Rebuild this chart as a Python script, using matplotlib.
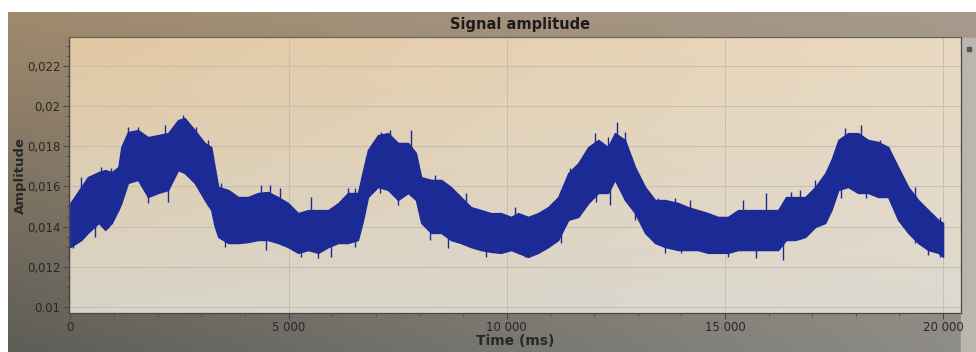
"""Signal amplitude over time: dense noisy trace drawn as its min/max band."""
import numpy as np
import matplotlib
matplotlib.use("Agg")
import matplotlib.pyplot as plt
from matplotlib.ticker import FixedLocator, MultipleLocator, FixedFormatter

# envelope of the noisy trace
time_ms = [0, 250, 400, 650, 800, 950, 1100, 1170, 1320, 1550, 1780, 2010, 2240,
           2470, 2620, 2850, 3080, 3230, 3300, 3390, 3620, 3850, 4070, 4300, 4530,
           4760, 4990, 5220, 5450, 5680, 5910, 6140, 6360, 6590, 6710, 6820, 7050,
           7280, 7510, 7740, 7920, 8040, 8270, 8500, 8720, 8950, 9180, 9410, 9640,
           9870, 10100, 10260, 10490, 10720, 10950, 11180, 11410, 11640, 11870,
           12100, 12320, 12480, 12710, 12940, 13170, 13400, 13630, 13930, 14150,
           14380, 14610, 14840, 15070, 15300, 15530, 15760, 15990, 16220, 16400,
           16610, 16840, 17070, 17300, 17440, 17600, 17820, 18050, 18280, 18510,
           18740, 18970, 19200, 19430, 19660, 19890, 20000]
amp_upper = [0.01517, 0.01597, 0.01646, 0.01671, 0.01681, 0.01671, 0.01696, 0.01796,
             0.01870, 0.01880, 0.01845, 0.01855, 0.01865, 0.01930, 0.01940, 0.01880,
             0.01816, 0.01796, 0.01706, 0.01597, 0.01582, 0.01547, 0.01547, 0.01567,
             0.01572, 0.01547, 0.01517, 0.01467, 0.01482, 0.01482, 0.01482, 0.01517,
             0.01567, 0.01567, 0.01681, 0.01781, 0.01855, 0.01865, 0.01816, 0.01816,
             0.01766, 0.01646, 0.01632, 0.01632, 0.01597, 0.01547, 0.01497, 0.01482,
             0.01467, 0.01467, 0.01448, 0.01467, 0.01448, 0.01467, 0.01497, 0.01547,
             0.01666, 0.01716, 0.01796, 0.01831, 0.01796, 0.01865, 0.01831, 0.01696,
             0.01597, 0.01532, 0.01532, 0.01517, 0.01497, 0.01482, 0.01467, 0.01448,
             0.01448, 0.01482, 0.01482, 0.01482, 0.01482, 0.01482, 0.01547, 0.01547,
             0.01547, 0.01597, 0.01666, 0.01731, 0.01831, 0.01865, 0.01865, 0.01831,
             0.01821, 0.01796, 0.01696, 0.01597, 0.01532, 0.01482, 0.01433, 0.01418]
amp_lower = [0.01298, 0.01333, 0.01368, 0.01418, 0.01383, 0.01418, 0.01482, 0.01517,
             0.01617, 0.01632, 0.01547, 0.01567, 0.01582, 0.01681, 0.01666, 0.01617,
             0.01532, 0.01482, 0.01408, 0.01348, 0.01318, 0.01318, 0.01323, 0.01333,
             0.01333, 0.01318, 0.01298, 0.01269, 0.01283, 0.01269, 0.01298, 0.01318,
             0.01318, 0.01333, 0.01433, 0.01547, 0.01597, 0.01582, 0.01532, 0.01567,
             0.01532, 0.01418, 0.01368, 0.01368, 0.01333, 0.01318, 0.01298, 0.01283,
             0.01274, 0.01269, 0.01283, 0.01269, 0.01249, 0.01269, 0.01298, 0.01333,
             0.01433, 0.01448, 0.01517, 0.01567, 0.01567, 0.01632, 0.01532, 0.01467,
             0.01368, 0.01318, 0.01298, 0.01283, 0.01283, 0.01283, 0.01269, 0.01269,
             0.01269, 0.01283, 0.01283, 0.01283, 0.01283, 0.01283, 0.01333, 0.01333,
             0.01348, 0.01398, 0.01418, 0.01482, 0.01582, 0.01597, 0.01567, 0.01567,
             0.01547, 0.01547, 0.01433, 0.01368, 0.01318, 0.01283, 0.01269, 0.01249]

# isolated spikes poking out of the band
spike_up_t = [238, 704, 933, 1322, 1551, 2170, 2583, 2881, 3156, 3454, 4370, 4577,
              4806, 5516, 6364, 6524, 6776, 7120, 7326, 7807, 8357, 9068, 10191,
              11451, 12024, 12322, 12528, 12712, 13468, 13858, 14201, 15416, 15943,
              16516, 16722, 17066, 17433, 17754, 18120, 18556, 19358, 19931]
spike_up_v = [0.01646, 0.01696, 0.01691, 0.01895, 0.01895, 0.01905, 0.01955, 0.01895,
              0.01831, 0.01617, 0.01607, 0.01607, 0.01592, 0.01547, 0.01592, 0.01592,
              0.01746, 0.01870, 0.01880, 0.01880, 0.01656, 0.01567, 0.01497, 0.01691,
              0.01865, 0.01845, 0.01920, 0.01870, 0.01542, 0.01542, 0.01532, 0.01532,
              0.01567, 0.01572, 0.01582, 0.01632, 0.01731, 0.01890, 0.01905, 0.01831,
              0.01597, 0.01448]
spike_dn_t = [62, 566, 868, 1781, 2239, 3316, 3545, 4485, 5287, 5677, 5975, 6524,
              7097, 7509, 8243, 8656, 9527, 10420, 11245, 12047, 12368, 12941, 13629,
              13996, 15073, 15714, 16333, 17662, 18235, 19358, 19656, 19931]
spike_dn_v = [0.01293, 0.01348, 0.01393, 0.01517, 0.01522, 0.01433, 0.01298, 0.01283,
              0.01249, 0.01244, 0.01249, 0.01298, 0.01567, 0.01507, 0.01333, 0.01293,
              0.01249, 0.01249, 0.01318, 0.01522, 0.01507, 0.01433, 0.01269, 0.01269,
              0.01249, 0.01244, 0.01234, 0.01542, 0.01542, 0.01318, 0.01259, 0.01249]

y_ticks = [0.010, 0.012, 0.014, 0.016, 0.018, 0.020, 0.022]
y_labels = ["0.01", "0,012", "0,014", "0,016", "0,018", "0,02", "0,022"]
x_ticks = [0, 5000, 10000, 15000, 20000]
x_labels = ["0", "5 000", "10 000", "15 000", "20 000"]

C_SIG = "#1c2a96"
C_TXT = "#2a2824"


def gradient(tl, tr, bl, br, n=64):
    c = [np.array(matplotlib.colors.to_rgb(k)) for k in (tl, tr, bl, br)]
    u = np.linspace(0, 1, n)[None, :, None]
    v = np.linspace(0, 1, n)[:, None, None]
    top = c[0] * (1 - u) + c[1] * u
    bot = c[2] * (1 - u) + c[3] * u
    return top * (1 - v) + bot * v


fig = plt.figure(figsize=(9.76, 3.52), dpi=100, facecolor="white")

# photographed screen surround (white margin top/left)
bg = fig.add_axes([8 / 976, 0, 1 - 8 / 976, 1 - 12 / 352])
bg.imshow(gradient("#a08a6e", "#a69a8c", "#5e5d57", "#8f8d87"), aspect="auto",
          extent=(0, 1, 0, 1), interpolation="bilinear")
# strip to the right of the plot and its small marker
bg.add_patch(plt.Rectangle((0.984, 0), 0.02, 0.925, color="#bab6ae", zorder=2))
bg.plot([0.9925], [0.89], marker="s", ms=2.5, color="#555", zorder=3)
bg.set_xlim(0, 1)
bg.set_ylim(0, 1)
bg.set_axis_off()

ax = fig.add_axes([69 / 976, 1 - 313 / 352, (961 - 69) / 976, (313 - 37) / 352])
ax.imshow(gradient("#e2c8a2", "#eadac2", "#d8d4c8", "#ddd9d0"), aspect="auto",
          extent=(-30, 20410, 0.0097, 0.02343), interpolation="bilinear", zorder=0)

ax.fill_between(time_ms, amp_lower, amp_upper, color=C_SIG, lw=1.0,
                edgecolor=C_SIG, zorder=3)
ax.vlines(spike_up_t, np.interp(spike_up_t, time_ms, amp_lower), spike_up_v,
          color=C_SIG, lw=1.0, zorder=3)
ax.vlines(spike_dn_t, spike_dn_v, np.interp(spike_dn_t, time_ms, amp_upper),
          color=C_SIG, lw=1.0, zorder=3)

ax.set_xlim(-30, 20410)
ax.set_ylim(0.0097, 0.02343)
ax.yaxis.set_major_locator(FixedLocator(y_ticks))
ax.yaxis.set_major_formatter(FixedFormatter(y_labels))
ax.yaxis.set_minor_locator(MultipleLocator(0.0005))
ax.xaxis.set_major_locator(FixedLocator(x_ticks))
ax.xaxis.set_major_formatter(FixedFormatter(x_labels))
ax.xaxis.set_minor_locator(MultipleLocator(1000))
ax.grid(True, which="major", color="#c4baa8", lw=0.6, zorder=1)
ax.tick_params(which="major", length=4, width=0.8, color="#4a4844",
               labelsize=8.5, labelcolor=C_TXT, pad=2)
ax.tick_params(which="minor", length=2, width=0.6, color="#4a4844")
for s in ax.spines.values():
    s.set_color("#4a4844")
    s.set_linewidth(0.9)
ax.spines["top"].set_color("#6b6558")

ax.set_xlabel("Time (ms)", fontsize=10, fontweight="bold", color=C_TXT, labelpad=0)
ax.set_ylabel("Amplitude", fontsize=9.5, fontweight="bold", color=C_TXT, labelpad=0)
fig.text(520 / 976, 1 - 25 / 352, "Signal amplitude", ha="center", va="center",
         fontsize=10.5, fontweight="bold", color="#1e1c1a")

fig.savefig("out.png", dpi=100, facecolor="white")
